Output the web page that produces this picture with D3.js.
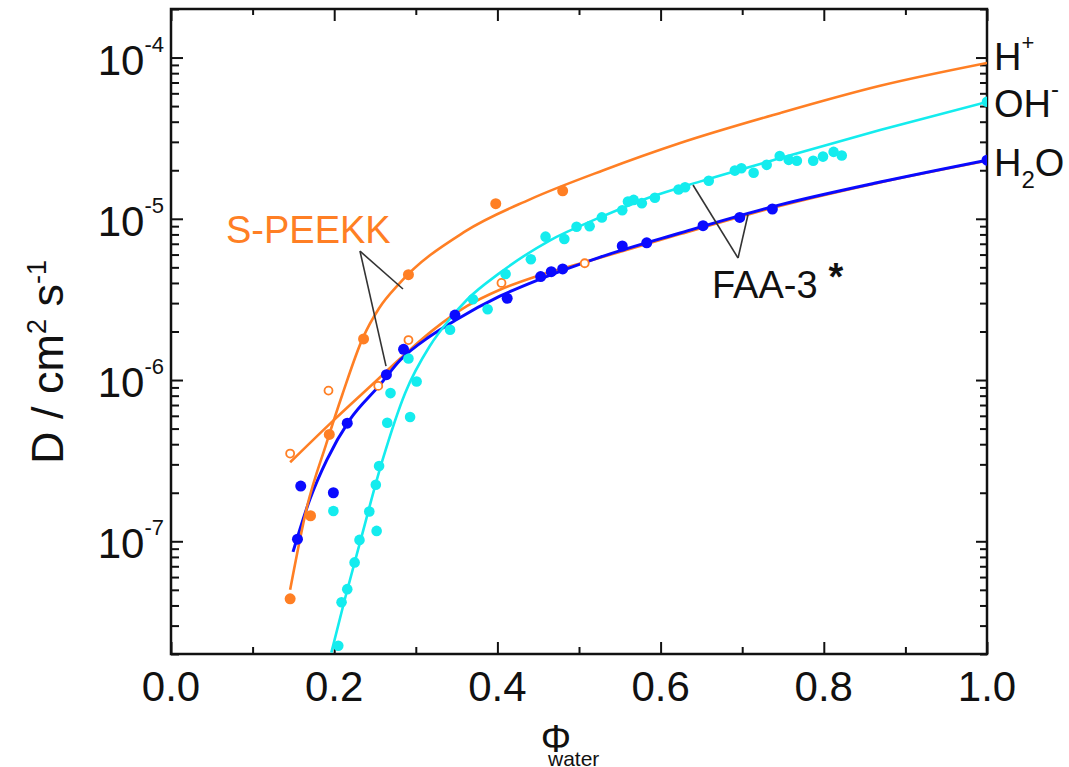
<!DOCTYPE html>
<html>
<head>
<meta charset="utf-8">
<script src="https://cdn.jsdelivr.net/npm/d3@7"></script>
<style>
  html, body { margin: 0; padding: 0; background: #fff; }
  svg { display: block; }
  text { font-family: "Liberation Sans", Arial, Helvetica, sans-serif; fill: #111; }
</style>
</head>
<body>
<svg id="chart" width="1069" height="767"></svg>
<script>
// ---- Measured diffusion coefficients D (cm^2 s^-1) versus water volume fraction ----

// S-PEEKK, proton (H+) — filled orange circles
const speekkHPhi = [0.146, 0.171, 0.194, 0.236, 0.291, 0.398, 0.480];
const speekkHD   = [4.4e-8, 1.44e-7, 4.6e-7, 1.8e-6, 4.5e-6, 1.24e-5, 1.49e-5];

// S-PEEKK, water (H2O) — open orange circles
const speekkWPhi = [0.146, 0.193, 0.254, 0.291, 0.405, 0.507];
const speekkWD   = [3.5e-7, 8.6e-7, 9.2e-7, 1.77e-6, 4.0e-6, 5.3e-6];

// FAA-3, water (H2O) — filled blue circles
const faaWPhi = [0.155, 0.159, 0.199, 0.216, 0.264, 0.285, 0.348, 0.412, 0.453, 0.466,
                 0.480, 0.553, 0.583, 0.652, 0.697, 0.737, 1.0];
const faaWD   = [1.03e-7, 2.2e-7, 2.0e-7, 5.4e-7, 1.08e-6, 1.55e-6, 2.53e-6, 3.21e-6, 4.38e-6, 4.7e-6,
                 4.89e-6, 6.78e-6, 7.1e-6, 9.06e-6, 1.02e-5, 1.15e-5, 2.31e-5];

// FAA-3, hydroxide (OH-) — filled cyan circles
const faaOHPhi = [0.205, 0.209, 0.216, 0.225, 0.231, 0.252, 0.243, 0.199, 0.251, 0.255,
                  0.265, 0.293, 0.269, 0.301, 0.291, 0.342, 0.370, 0.388, 0.410, 0.441,
                  0.459, 0.482, 0.497, 0.513, 0.528, 0.553, 0.560, 0.567, 0.577, 0.593,
                  0.622, 0.630, 0.659, 0.691, 0.699, 0.714, 0.730, 0.746, 0.757, 0.767,
                  0.787, 0.799, 0.812, 0.822, 1.0];
const faaOHD   = [2.25e-8, 4.19e-8, 5.05e-8, 7.4e-8, 1.02e-7, 1.16e-7, 1.53e-7, 1.54e-7, 2.24e-7, 2.93e-7,
                  5.44e-7, 5.9e-7, 8.3e-7, 9.8e-7, 1.36e-6, 2.05e-6, 3.17e-6, 2.75e-6, 4.55e-6, 5.61e-6,
                  7.75e-6, 7.5e-6, 8.93e-6, 9.0e-6, 1.02e-5, 1.13e-5, 1.28e-5, 1.31e-5, 1.25e-5, 1.35e-5,
                  1.52e-5, 1.57e-5, 1.72e-5, 1.99e-5, 2.06e-5, 1.93e-5, 2.16e-5, 2.45e-5, 2.32e-5, 2.29e-5,
                  2.29e-5, 2.43e-5, 2.6e-5, 2.47e-5, 5.32e-5];

// ---- Fitted curves (sampled along each fit) ----
const fitHPhi = [0.146, 0.167, 0.19, 0.21, 0.235, 0.255, 0.28, 0.36, 0.44, 0.53, 0.624, 0.746, 0.869, 1.0];
const fitHD   = [5.0e-8, 1.66e-7, 3.98e-7, 8.13e-7, 1.82e-6, 2.79e-6, 3.98e-6, 8.32e-6, 1.32e-5, 2.0e-5,
                 2.95e-5, 4.52e-5, 6.68e-5, 9.25e-5];

const fitSWPhi = [0.146, 0.195, 0.244, 0.281, 0.321, 0.363, 0.403, 0.452, 0.51, 0.624, 0.746, 0.869, 1.0];
const fitSWD   = [3.09e-7, 5.37e-7, 9.12e-7, 1.36e-6, 2.04e-6, 2.88e-6, 3.63e-6, 4.47e-6, 5.43e-6, 8.04e-6, 1.20e-5, 1.68e-5, 2.29e-5];

const fitFWPhi = [0.1495, 0.170, 0.191, 0.219, 0.256, 0.281, 0.317, 0.348, 0.403, 0.452, 0.526, 0.624, 0.746, 0.869, 1.0];
const fitFWD   = [8.59e-8, 1.81e-7, 3.20e-7, 5.66e-7, 9.33e-7, 1.33e-6, 1.86e-6, 2.34e-6, 3.31e-6, 4.22e-6, 5.79e-6, 8.17e-6, 1.22e-5, 1.69e-5, 2.31e-5];

const fitOHPhi = [0.1965, 0.213, 0.232, 0.259, 0.287, 0.317, 0.342, 0.363, 0.403, 0.464, 0.526, 0.587, 0.648, 0.746, 0.869, 1.0];
const fitOHD   = [2.04e-8, 4.37e-8, 1.0e-7, 3.16e-7, 8.32e-7, 1.62e-6, 2.40e-6, 3.16e-6, 4.62e-6, 7.33e-6, 1.02e-5, 1.36e-5, 1.70e-5, 2.37e-5, 3.55e-5, 5.31e-5];

// ---- Axis ticks ----
const xMajor = [0, 0.2, 0.4, 0.6, 0.8, 1.0];
const xMinor = [0.1, 0.3, 0.5, 0.7, 0.9];
const yDecades = [1e-7, 1e-6, 1e-5, 1e-4];
const yDecadeExp = ["-7", "-6", "-5", "-4"];

// ---- Annotation pointers (phi, D) ----
const speekkLabel = { text: "S-PEEKK", phi: 0.0674, D: 7.08e-6 };
const speekkApex  = [0.2316, 6.3e-6];
const speekkTips  = [[0.2843, 3.67e-6], [0.2635, 1.22e-6]];
const faaLabel    = { text: "FAA-3", phi: 0.663, D: 3.23e-6 };
const faaApex     = [0.6949, 5.71e-6];
const faaTips     = [[0.6397, 1.62e-5], [0.7071, 1.06e-5]];

// ---- Colours ----
const ORANGE = "#ff7f24";
const BLUE   = "#0a0aff";
const CYAN   = "#14ecee";

// ---- Layout ----
const L = 171, R = 987, T = 9, B = 654;
const svg = d3.select("#chart");
const x = d3.scaleLinear().domain([0, 1]).range([L, R]);
const y = d3.scaleLog().domain([2e-8, 2e-4]).range([B, T]);

svg.append("defs").append("clipPath").attr("id", "plotClip")
  .append("rect").attr("x", L).attr("y", T).attr("width", R - L).attr("height", B - T);

// minor log ticks inside each decade
const yMinor = [];
for (let e = -8; e <= -4; e++) {
  for (let k = 2; k <= 9; k++) {
    const v = k * Math.pow(10, e);
    if (v >= 2e-8 && v <= 2e-4) yMinor.push(v);
  }
}

function styleAxis(g) {
  g.select(".domain").remove();
  g.selectAll(".tick line").attr("stroke", "#111").attr("stroke-width", 2);
  g.selectAll(".tick text").remove();
}

// x ticks (bottom and top, pointing inward)
svg.append("g").attr("transform", `translate(0,${B})`)
  .call(d3.axisBottom(x).tickValues(xMajor).tickSize(-12).tickFormat("")).call(styleAxis);
svg.append("g").attr("transform", `translate(0,${B})`)
  .call(d3.axisBottom(x).tickValues(xMinor).tickSize(-7).tickFormat("")).call(styleAxis);
svg.append("g").attr("transform", `translate(0,${T})`)
  .call(d3.axisTop(x).tickValues(xMajor).tickSize(-12).tickFormat("")).call(styleAxis);
svg.append("g").attr("transform", `translate(0,${T})`)
  .call(d3.axisTop(x).tickValues(xMinor).tickSize(-6).tickFormat("")).call(styleAxis);

// y ticks (left and right, pointing inward)
svg.append("g").attr("transform", `translate(${L},0)`)
  .call(d3.axisLeft(y).tickValues(yDecades).tickSize(-12).tickFormat("")).call(styleAxis);
svg.append("g").attr("transform", `translate(${L},0)`)
  .call(d3.axisLeft(y).tickValues(yMinor).tickSize(-8).tickFormat("")).call(styleAxis);
svg.append("g").attr("transform", `translate(${R},0)`)
  .call(d3.axisRight(y).tickValues(yDecades).tickSize(-11).tickFormat("")).call(styleAxis);
svg.append("g").attr("transform", `translate(${R},0)`)
  .call(d3.axisRight(y).tickValues(yMinor).tickSize(-7).tickFormat("")).call(styleAxis);

// frame
svg.append("rect").attr("x", L).attr("y", T).attr("width", R - L).attr("height", B - T)
  .attr("fill", "none").attr("stroke", "#111").attr("stroke-width", 2.5);

// x tick labels
svg.append("g").selectAll("text").data(xMajor).join("text")
  .attr("x", d => x(d)).attr("y", 701)
  .attr("text-anchor", "middle").attr("font-size", 42)
  .text(d => d3.format(".1f")(d));

// y tick labels: 10^n
const yl = svg.append("g").selectAll("text").data(yDecades).join("text")
  .attr("x", 164).attr("y", d => y(d) + 17)
  .attr("text-anchor", "end").attr("font-size", 42);
yl.append("tspan").text("10");
yl.append("tspan").attr("dy", -23).attr("font-size", 22).text((d, i) => yDecadeExp[i]);

// axis titles
svg.append("text").attr("x", 556).attr("y", 752).attr("text-anchor", "middle").attr("font-size", 38).text("Φ");
svg.append("text").attr("x", 548).attr("y", 766).attr("font-size", 21).text("water");

const yt = svg.append("text")
  .attr("transform", "translate(63,362) rotate(-90)")
  .attr("text-anchor", "middle").attr("font-size", 45);
yt.append("tspan").text("D / cm");
yt.append("tspan").attr("dy", -17).attr("font-size", 27).text("2");
yt.append("tspan").attr("dy", 17).text(" s");
yt.append("tspan").attr("dy", -17).attr("font-size", 27).text("-1");

// ---- curves ----
const plot = svg.append("g").attr("clip-path", "url(#plotClip)");
const line = d3.line().x(d => x(d[0])).y(d => y(d[1])).curve(d3.curveMonotoneX);
const zip = (a, b) => a.map((v, i) => [v, b[i]]);

plot.append("path").datum(zip(fitSWPhi, fitSWD)).attr("d", line)
  .attr("fill", "none").attr("stroke", ORANGE).attr("stroke-width", 2.6);
plot.append("path").datum(zip(fitFWPhi, fitFWD)).attr("d", line)
  .attr("fill", "none").attr("stroke", BLUE).attr("stroke-width", 3);
plot.append("path").datum(zip(fitOHPhi, fitOHD)).attr("d", line)
  .attr("fill", "none").attr("stroke", CYAN).attr("stroke-width", 2.6);
plot.append("path").datum(zip(fitHPhi, fitHD)).attr("d", line)
  .attr("fill", "none").attr("stroke", ORANGE).attr("stroke-width", 2.6);

// ---- points ----
plot.append("g").selectAll("circle").data(zip(speekkWPhi, speekkWD)).join("circle")
  .attr("cx", d => x(d[0])).attr("cy", d => y(d[1])).attr("r", 4)
  .attr("fill", "#fff").attr("stroke", ORANGE).attr("stroke-width", 1.8);
plot.append("g").selectAll("circle").data(zip(faaOHPhi, faaOHD)).join("circle")
  .attr("cx", d => x(d[0])).attr("cy", d => y(d[1])).attr("r", 5.3).attr("fill", CYAN);
plot.append("g").selectAll("circle").data(zip(faaWPhi, faaWD)).join("circle")
  .attr("cx", d => x(d[0])).attr("cy", d => y(d[1])).attr("r", 5.5).attr("fill", BLUE);
plot.append("g").selectAll("circle").data(zip(speekkHPhi, speekkHD)).join("circle")
  .attr("cx", d => x(d[0])).attr("cy", d => y(d[1])).attr("r", 5.5).attr("fill", ORANGE);

// ---- annotations ----
function pointer(apex, tips) {
  tips.forEach(t => {
    svg.append("line")
      .attr("x1", x(apex[0])).attr("y1", y(apex[1]))
      .attr("x2", x(t[0])).attr("y2", y(t[1]))
      .attr("stroke", "#333").attr("stroke-width", 1.6);
  });
}
pointer(speekkApex, speekkTips);
pointer(faaApex, faaTips);

svg.append("text").attr("x", x(speekkLabel.phi)).attr("y", y(speekkLabel.D))
  .attr("font-size", 38).style("fill", ORANGE).text(speekkLabel.text);
const ft = svg.append("text").attr("x", x(faaLabel.phi)).attr("y", y(faaLabel.D)).attr("font-size", 38);
ft.append("tspan").text(faaLabel.text);
ft.append("tspan").attr("dx", 11).attr("dy", -8).attr("font-weight", "bold").attr("font-size", 38).text("*");

// ion labels at the right
const ions = svg.append("g").attr("font-size", 38);
const hp = ions.append("text").attr("x", 994).attr("y", 70);
hp.append("tspan").text("H");
hp.append("tspan").attr("dy", -20).attr("font-size", 22).text("+");
const oh = ions.append("text").attr("x", 994).attr("y", 117);
oh.append("tspan").text("OH");
oh.append("tspan").attr("dy", -20).attr("font-size", 24).text("-");
const hw = ions.append("text").attr("x", 994).attr("y", 176);
hw.append("tspan").text("H");
hw.append("tspan").attr("dy", 12).attr("font-size", 24).text("2");
hw.append("tspan").attr("dy", -12).text("O");
</script>
</body>
</html>
